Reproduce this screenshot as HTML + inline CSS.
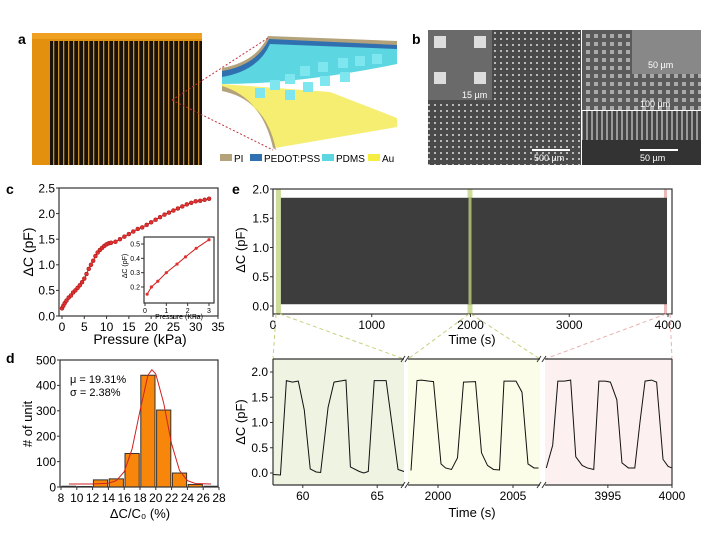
<!DOCTYPE html>
<html><head><meta charset="utf-8"><style>
body{margin:0;background:#fff;}
svg{display:block;font-family:"Liberation Sans",Arial,sans-serif;}
</style></head><body>
<svg id="fig" width="703" height="536" viewBox="0 0 703 536">
<defs>
<pattern id="stripes" width="5" height="10" patternUnits="userSpaceOnUse"><rect width="5" height="10" fill="#1a1208"/><rect x="3" width="1.3" height="10" fill="#c8902a"/></pattern>
<pattern id="dots" width="6" height="6" patternUnits="userSpaceOnUse"><rect width="6" height="6" fill="#4a4a4a"/><circle cx="3" cy="3" r="1" fill="#ddd"/></pattern>
<pattern id="pill" width="8" height="8" patternUnits="userSpaceOnUse"><rect width="8" height="8" fill="#5a5a5a"/><rect x="2" y="2" width="4" height="4" fill="#aaa"/></pattern>
<pattern id="pill2" width="5" height="12" patternUnits="userSpaceOnUse"><rect width="5" height="12" fill="#444"/><rect x="1" y="0" width="2" height="12" fill="#999"/></pattern>
</defs>
<!-- panel a -->
<text x="18" y="44" font-size="14" font-weight="bold">a</text>
<g>
<rect x="32" y="33" width="170" height="132" fill="#e3900f"/>
<rect x="50" y="41" width="152" height="124" fill="url(#stripes)"/>
<rect x="32" y="33" width="170" height="6" fill="#f0a020"/>
</g>
<g>
<path d="M222,84 L330,92 L397,118 L397,127 L275,148 Q262,100 222,88Z" fill="#f5ee70"/>
<path d="M222,86 Q262,98 273,148 L276,150 Q266,100 222,91Z" fill="#b4a27a"/>
<path d="M222,74 Q258,68 270,40 L397,46 L397,64 Q300,84 222,84Z" fill="#5cd6e0"/>
<path d="M222,68 Q256,62 268,36 L397,41 L397,46 L270,41 Q258,68 222,74Z" fill="#b4a27a"/>
<path d="M222,71 Q257,65 269,39 L397,45 L397,49 L270,44 Q258,71 222,77Z" fill="#3070b0"/>
<g fill="#7ee6ee">
<rect x="255" y="88" width="10" height="10"/><rect x="270" y="80" width="10" height="10"/><rect x="285" y="74" width="10" height="10"/><rect x="300" y="66" width="10" height="10"/><rect x="318" y="62" width="10" height="10"/><rect x="338" y="58" width="10" height="10"/><rect x="355" y="56" width="10" height="10"/><rect x="372" y="54" width="10" height="10"/>
<rect x="285" y="90" width="10" height="10"/><rect x="303" y="82" width="10" height="10"/><rect x="320" y="76" width="10" height="10"/><rect x="340" y="72" width="10" height="10"/>
</g>
<line x1="172" y1="100" x2="268" y2="38" stroke="#c03040" stroke-dasharray="2,2"/>
<line x1="172" y1="100" x2="273" y2="150" stroke="#c03040" stroke-dasharray="2,2"/>
</g>
<g font-size="10">
<rect x="220" y="154" width="12" height="7" fill="#b4a27a"/><text x="234" y="162">PI</text>
<rect x="250" y="154" width="12" height="7" fill="#3070b0"/><text x="264" y="162">PEDOT:PSS</text>
<rect x="322" y="154" width="12" height="7" fill="#5cd6e0"/><text x="336" y="162">PDMS</text>
<rect x="368" y="154" width="12" height="7" fill="#f5ee40"/><text x="382" y="162">Au</text>
</g>
<!-- panel b -->
<text x="412" y="44" font-size="14" font-weight="bold">b</text>
<g fill="#fff" font-size="9">
<rect x="428" y="30" width="153" height="135" fill="url(#dots)"/>
<rect x="428" y="30" width="64" height="70" fill="#6a6a6a"/>
<rect x="434" y="36" width="12" height="12" fill="#ddd"/><rect x="474" y="36" width="12" height="12" fill="#ddd"/>
<rect x="434" y="72" width="12" height="12" fill="#ddd"/><rect x="474" y="72" width="12" height="12" fill="#ddd"/>
<text x="462" y="98">15 µm</text>
<rect x="532" y="149" width="38" height="2"/><text x="534" y="161">500 µm</text>
<rect x="582" y="30" width="119" height="80" fill="url(#pill)"/>
<rect x="632" y="30" width="69" height="44" fill="#888"/>
<text x="648" y="68">50 µm</text>
<text x="640" y="107">100 µm</text>
<rect x="582" y="111" width="119" height="54" fill="url(#pill2)"/>
<rect x="582" y="140" width="119" height="25" fill="#333"/>
<rect x="640" y="149" width="38" height="2"/><text x="640" y="161">50 µm</text>
</g>
<text x="6" y="194" font-size="14" font-weight="bold">c</text>
<text x="6" y="363" font-size="14" font-weight="bold">d</text>
<text x="232" y="194" font-size="14" font-weight="bold">e</text>
<g id="gc"></g><g id="gd"></g><g id="ge"></g><g id="gf"></g>
</svg>
<script>
// ---- data ----
const cP=[0,0.3,0.6,1,1.5,2,2.5,3,3.5,4,4.5,5,5.5,6,6.5,7,7.5,8,8.5,9,9.5,10,10.5,11,12,13,14,15,16,17,18,19,20,21,22,23,24,25,26,27,28,29,30,31,32,33];
const cC=[0.15,0.2,0.25,0.3,0.36,0.4,0.46,0.5,0.55,0.6,0.66,0.73,0.82,0.92,1.0,1.08,1.17,1.24,1.29,1.33,1.37,1.4,1.42,1.43,1.45,1.5,1.55,1.6,1.65,1.7,1.73,1.78,1.83,1.88,1.93,1.98,2.02,2.06,2.1,2.14,2.18,2.21,2.24,2.25,2.27,2.29];
const insP=[0.1,0.3,0.6,1,1.5,1.9,2.4,3];
const insC=[0.15,0.2,0.24,0.3,0.36,0.41,0.47,0.53];
const binStart=[8,10,12,14,16,18,20,22,24,26];
const binCount=[3,2,28,32,132,440,303,55,10,3];
const fitX=[9,12,14,15,16,17,18,19,19.5,20,21,22,23,24,25,27];
const fitY=[12,12,15,25,60,150,300,440,462,445,330,170,65,25,14,12];
const longStart=80, longEnd=3990, longHigh=1.85, longLow=0.03;
const highlightT=[60,2000,3990];
const s1T=[58.0,58.5,58.9,59.3,59.7,60.1,60.5,60.9,61.2,61.7,62.1,62.9,63.2,63.8,64.1,64.4,64.8,65.6,66.4,66.8];
const s1V=[-0.03,-0.04,1.83,1.8,1.82,1.25,0.08,0.02,0.01,1.3,1.8,1.84,0.12,0.03,0.0,0.03,1.83,1.83,0.07,0.03];
const s2T=[1998.2,1998.6,1998.9,1999.4,1999.7,2000.2,2000.5,2000.9,2001.3,2001.7,2002.5,2002.9,2003.3,2003.7,2004.1,2004.4,2005.2,2005.6,2006.0,2006.4,2006.7];
const s2V=[0.05,1.83,1.84,1.82,1.81,0.18,0.1,0.07,0.3,1.8,1.81,0.4,0.15,0.07,0.06,1.82,1.82,1.6,0.18,0.1,0.1];
const s3T=[3990.2,3990.7,3991.1,3991.6,3992.1,3992.5,3993.0,3993.4,3993.9,3994.3,3994.8,3995.2,3995.7,3996.1,3996.6,3997.1,3997.5,3997.9,3998.4,3998.8,3999.3,3999.7,4000];
const s3V=[0.1,0.55,1.82,1.82,1.84,0.32,0.15,0.1,0.07,1.82,1.82,1.8,1.45,0.2,0.1,0.1,1.0,1.82,1.84,1.8,0.27,0.13,0.1];
const cXt=[0,5,10,15,20,25,30,35], cYt=[0,0.5,1,1.5,2,2.5];
const dXt=[8,10,12,14,16,18,20,22,24,26,28], dYt=[0,100,200,300,400,500];
const eXt=[0,1000,2000,3000,4000], eYt=[0,0.5,1,1.5,2];
// ---- helpers ----
const NS='http://www.w3.org/2000/svg';
function mk(p,t,a,txt){const e=document.createElementNS(NS,t);for(const k in a)e.setAttribute(k,a[k]);if(txt!==undefined)e.textContent=txt;p.appendChild(e);return e;}
function lin(d0,d1,r0,r1){return v=>r0+(v-d0)/(d1-d0)*(r1-r0);}
function fmt(v,dec){return v.toFixed(dec);}
function axes(g,x,y,L,R,T,B,xt,yt,xd,yd,fs){
  for(const v of xt){const px=x(v);
    const t=mk(g,'line',{x1:px,x2:px,y1:B,y2:B+3,stroke:'#333'});
    
    const l=mk(g,'text',{x:px,y:B+3+fs,'font-size':fs,'text-anchor':'middle'},fmt(v,xd));
    }
  for(const v of yt){const py=y(v);
    const t=mk(g,'line',{x1:L-3,x2:L,y1:py,y2:py,stroke:'#333'});
    
    const l=mk(g,'text',{x:L-4,y:py+fs*0.36,'font-size':fs,'text-anchor':'end'},fmt(v,yd));
    }
  const r=mk(g,'rect',{x:L,y:T,width:R-L,height:B-T,fill:'none',stroke:'#333','stroke-width':1.2});
  
}
// ---- panel c ----
(function(){const g=document.getElementById('gc');

const L=59,R=218,T=188,B=316;const x=lin(0,35,62,218),y=lin(0,2.5,316,188);
axes(g,x,y,L,R,T,B,cXt,cYt,0,1,12);
const pl=mk(g,'polyline',{points:cP.map((p,i)=>x(p)+','+y(cC[i])).join(' '),fill:'none',stroke:'#d02020','stroke-width':1});

cP.forEach((p,i)=>{const c=mk(g,'circle',{cx:x(p),cy:y(cC[i]),r:2,fill:'#e03030',stroke:'#a01010','stroke-width':0.5});
});
const xt=mk(g,'text',{x:140,y:344,'font-size':14,'text-anchor':'middle'},'Pressure (kPa)');

const yt=mk(g,'text',{x:0,y:0,'font-size':14,'text-anchor':'middle',transform:'translate(33,252) rotate(-90)'},'ΔC (pF)');

// inset
const gi=mk(g,'g',{});
const iL=144,iR=214,iT=237,iB=303;const ix=lin(0,3,145,209),iy=lin(0.2,0.5,287,244);
mk(gi,'rect',{x:iL,y:iT,width:iR-iL,height:iB-iT,fill:'#fff'});
axes(gi,ix,iy,iL,iR,iT,iB,[0,1,2,3],[0.2,0.3,0.4,0.5],0,1,7);
const ipl=mk(gi,'polyline',{points:insP.map((p,i)=>ix(p)+','+iy(insC[i])).join(' '),fill:'none',stroke:'#d02020','stroke-width':1});

insP.forEach((p,i)=>{const c=mk(gi,'circle',{cx:ix(p),cy:iy(insC[i]),r:1.6,fill:'#e03030'});
});
const it=mk(gi,'text',{x:179,y:319,'font-size':7,'text-anchor':'middle'},'Pressure (KPa)');

const iy2=mk(gi,'text',{x:0,y:0,'font-size':7,'text-anchor':'middle',transform:'translate(127,266) rotate(-90)'},'ΔC (pF)');

})();
// ---- panel d ----
(function(){const g=document.getElementById('gd');

const L=60,R=218,T=360,B=487;const x=lin(8,28,61,219),y=lin(0,500,487,360);
binStart.forEach((s,i)=>{const b=mk(g,'rect',{x:x(s)+0.8,y:y(binCount[i]),width:x(s+2)-x(s)-1.6,height:B-y(binCount[i]),fill:'#f7860b',stroke:'#333','stroke-width':1});
});
const f=mk(g,'polyline',{points:fitX.map((v,i)=>x(v)+','+y(fitY[i])).join(' '),fill:'none',stroke:'#d02020','stroke-width':1,'stroke-linejoin':'round'});

axes(g,x,y,L,R,T,B,dXt,dYt,0,0,12);
const m=mk(g,'text',{x:70,y:383,'font-size':11},'μ = 19.31%');
const s=mk(g,'text',{x:70,y:396,'font-size':11},'σ = 2.38%');
const xt=mk(g,'text',{x:140,y:518,'font-size':13,'text-anchor':'middle'},'ΔC/C₀ (%)');
const yt=mk(g,'text',{x:0,y:0,'font-size':13,'text-anchor':'middle',transform:'translate(32,424) rotate(-90)'},'# of unit');
})();
// ---- panel e top ----
(function(){const g=document.getElementById('ge');

const L=273,R=672,T=189,B=314;const x=lin(0,4000,273,668),y=lin(0,2,306,189);
const cols=['#c8d890','#c8d890','#eab0b0'];
highlightT.forEach((t,i)=>{const h=mk(g,'rect',{x:x(t)-3,y:T,width:i==2?3:5,height:B-T,fill:cols[i],opacity:0.9});
});
const sig=mk(g,'rect',{x:x(longStart),y:y(longHigh),width:x(longEnd)-x(longStart),height:y(longLow)-y(longHigh),fill:'#3d3d3d'});

const hb=mk(g,'rect',{x:x(2000)-2,y:y(longHigh),width:3,height:y(longLow)-y(longHigh),fill:'#a8b070'});

axes(g,x,y,L,R,T,B,eXt,eYt,0,1,12);
const xt=mk(g,'text',{x:472,y:344,'font-size':13,'text-anchor':'middle'},'Time (s)');
const yt=mk(g,'text',{x:0,y:0,'font-size':13,'text-anchor':'middle',transform:'translate(245,250) rotate(-90)'},'ΔC (pF)');
})();
// ---- panel e bottom ----
(function(){const g=document.getElementById('gf');

const T=359,B=485;const y=lin(0,2,473,372);
const segs=[{t:s1T,v:s1V,a:58,b:66.8,p0:273,p1:404,bg:'#eef3e2',ticks:[60,65]},
 {t:s2T,v:s2V,a:1998,b:2006.8,p0:408,p1:540,bg:'#fbfde8',ticks:[2000,2005]},
 {t:s3T,v:s3V,a:3990.1,b:4000,p0:545,p1:672,bg:'#fcf0f0',ticks:[3995,4000]}];
const con=[[276,314,273,359,'#c8d080'],[280,314,404,359,'#c8d080'],[469,314,408,359,'#c8d080'],[471,314,540,359,'#c8d080'],[666,314,545,359,'#e8b0b0'],[670,314,672,359,'#e8b0b0']];
con.forEach(c=>{const l=mk(g,'line',{x1:c[0],y1:c[1],x2:c[2],y2:c[3],stroke:c[4],'stroke-dasharray':'4,3'});
});
segs.forEach((s,k)=>{const x=lin(s.a,s.b,s.p0,s.p1);
 const bg=mk(g,'rect',{x:s.p0,y:T,width:s.p1-s.p0,height:B-T,fill:s.bg});
 
 const pl=mk(g,'polyline',{points:s.t.map((t,i)=>x(t)+','+y(s.v[i])).join(' '),fill:'none',stroke:'#111','stroke-width':1});
 
 mk(g,'line',{x1:s.p0,x2:s.p1,y1:T,y2:T,stroke:'#333','stroke-width':1.2});
 mk(g,'line',{x1:s.p0,x2:s.p1,y1:B,y2:B,stroke:'#333','stroke-width':1.2});
 s.ticks.forEach(v=>{const px=x(v);mk(g,'line',{x1:px,x2:px,y1:B,y2:B+3,stroke:'#333'});
  const l=mk(g,'text',{x:px,y:B+15,'font-size':12,'text-anchor':'middle'},String(v));
  });
});
mk(g,'line',{x1:273,x2:273,y1:T,y2:B,stroke:'#333','stroke-width':1.2});
mk(g,'line',{x1:672,x2:672,y1:T,y2:B,stroke:'#333','stroke-width':1.2});
[404,408,540,545].forEach(px=>{[T,B].forEach(py=>{const l=mk(g,'line',{x1:px-3,y1:py+3,x2:px+1,y2:py-3,stroke:'#333'});
 });});
eYt.forEach(v=>{const py=y(v);mk(g,'line',{x1:270,x2:273,y1:py,y2:py,stroke:'#333'});
 const l=mk(g,'text',{x:268,y:py+4,'font-size':12,'text-anchor':'end'},v.toFixed(1));
 });
const xt=mk(g,'text',{x:472,y:517,'font-size':13,'text-anchor':'middle'},'Time (s)');
const yt=mk(g,'text',{x:0,y:0,'font-size':13,'text-anchor':'middle',transform:'translate(245,422) rotate(-90)'},'ΔC (pF)');
})();
</script>
</body></html>
